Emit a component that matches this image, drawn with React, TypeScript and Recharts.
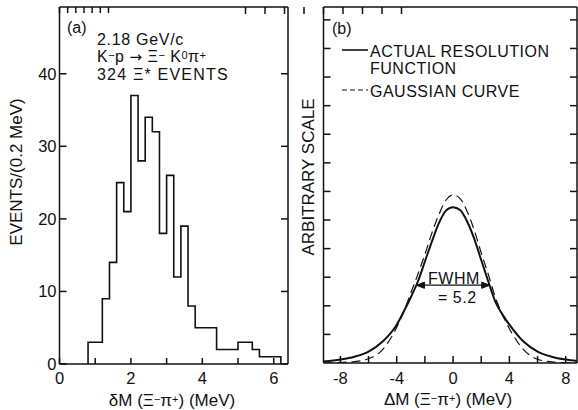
import React from "react";
import {
  ComposedChart,
  Line,
  XAxis,
  YAxis,
  ReferenceLine,
} from "recharts";

// (a) histogram: left edge of each 0.2 MeV bin and its count
const binLeft = [
  0.8, 1.0, 1.2, 1.4, 1.6, 1.8, 2.0, 2.2, 2.4, 2.6, 2.8, 3.0, 3.2, 3.4, 3.6,
  3.8, 4.0, 4.2, 4.4, 4.6, 4.8, 5.0, 5.2, 5.4, 5.6, 5.8, 6.0,
];
const counts = [
  3, 3, 9, 14, 25, 21, 37, 28, 34, 32, 18, 26, 12, 19, 8, 5, 5, 5, 2, 2, 2,
  3, 3, 2, 1, 1, 1,
];
const binWidth = 0.2;
const leftXTicks = [0, 1, 2, 3, 4, 5, 6];
const leftYTicks = [0, 10, 20, 30, 40];

// (b) resolution curves
const deltaM = [
  -9.2, -8, -7, -6, -5, -4, -3.5, -3, -2.5, -2, -1.5, -1, -0.5, 0, 0.5, 1,
  1.5, 2, 2.5, 3, 3.5, 4, 5, 6, 7, 8, 8.8,
];
const resolution = [
  0.05, 0.12, 0.22, 0.4, 0.75, 1.34, 1.8, 2.3, 2.85, 3.55, 4.25, 4.9, 5.33,
  5.45, 5.35, 4.95, 4.35, 3.6, 2.85, 2.15, 1.7, 1.34, 0.75, 0.4, 0.22, 0.12,
  0.07,
];
const gaussian = [
  0.0, 0.02, 0.05, 0.15, 0.47, 1.25, 1.8, 2.45, 3.1, 3.8, 4.55, 5.2, 5.7,
  5.88, 5.75, 5.3, 4.65, 3.85, 3.1, 2.3, 1.7, 1.2, 0.47, 0.13, 0.04, 0.01,
  0.0,
];
const rightXTicks = [-8, -6, -4, -2, 0, 2, 4, 6, 8];
const rightXLabels = [-8, -4, 0, 4, 8];
const rightYTicks = [1, 2, 3, 4, 5, 6, 7, 8, 9, 10, 11, 12];
const fwhm = 5.2;

const histData = [
  { x: binLeft[0], y: 0 },
  ...binLeft.map((x, i) => ({ x, y: counts[i] })),
  { x: binLeft[binLeft.length - 1] + binWidth, y: 0 },
];
const curveData = deltaM.map((x, i) => ({
  x,
  solid: resolution[i],
  dashed: gaussian[i],
}));

const W = 578;
const H = 410;
const INK = "#111";
const FONT = '"Liberation Sans", Arial, sans-serif';
const axisStroke = { stroke: INK, strokeWidth: 1.5 };
const noLabel = () => "";

// tick label drawn in ink colour; show = which values get a label
function makeTick(show: (v: number) => boolean, side: "bottom" | "left") {
  return (props: any) => {
    const { x, y, payload } = props;
    if (!show(payload.value)) return <g />;
    return (
      <text
        x={x}
        y={y}
        dy={side === "bottom" ? "0.71em" : "0.35em"}
        textAnchor={side === "bottom" ? "middle" : "end"}
        fontFamily={FONT}
        fontSize={16.5}
        fill={INK}
      >
        {payload.value}
      </text>
    );
  };
}

function FwhmArrow(props: any) {
  const { x1, x2, y1 } = props;
  const a = 5;
  return (
    <g stroke={INK} fill={INK}>
      <line x1={x1} y1={y1} x2={x2} y2={y1} strokeWidth={1.2} />
      <polygon points={`${x1},${y1} ${x1 + a * 1.6},${y1 - a / 1.6} ${x1 + a * 1.6},${y1 + a / 1.6}`} />
      <polygon points={`${x2},${y1} ${x2 - a * 1.6},${y1 - a / 1.6} ${x2 - a * 1.6},${y1 + a / 1.6}`} />
    </g>
  );
}

function HistogramPanel() {
  return (
    <ComposedChart
      width={W}
      height={H}
      data={histData}
      margin={{ top: 6, right: 289, bottom: 45, left: 58.5 }}
      style={{ position: "absolute", left: 0, top: 0 }}
    >
      <XAxis
        xAxisId="b"
        dataKey="x"
        type="number"
        domain={[0, 6.4]}
        ticks={leftXTicks}
        height={1}
        stroke={INK}
        tickSize={-6}
        tickMargin={14}
        tick={makeTick((v) => v % 2 === 0, "bottom")}
        axisLine={axisStroke}
        tickLine={axisStroke}
        allowDataOverflow
      />
      <XAxis
        xAxisId="t"
        orientation="top"
        type="number"
        domain={[0, 6.4]}
        ticks={leftXTicks}
        height={1}
        stroke={INK}
        tickSize={-6}
        tickFormatter={noLabel}
        axisLine={axisStroke}
        tickLine={axisStroke}
        allowDataOverflow
      />
      <YAxis
        yAxisId="l"
        type="number"
        domain={[0, 49.2]}
        ticks={leftYTicks}
        width={1}
        stroke={INK}
        tickSize={-7}
        tickMargin={10}
        tick={makeTick(() => true, "left")}
        axisLine={axisStroke}
        tickLine={axisStroke}
        allowDataOverflow
      />
      <YAxis
        yAxisId="r"
        orientation="right"
        type="number"
        domain={[0, 49.2]}
        ticks={leftYTicks}
        width={1}
        stroke={INK}
        tickSize={-7}
        tickFormatter={noLabel}
        axisLine={axisStroke}
        tickLine={axisStroke}
        allowDataOverflow
      />
      <Line
        xAxisId="b"
        yAxisId="l"
        dataKey="y"
        type="stepAfter"
        stroke={INK}
        strokeWidth={1.6}
        dot={false}
        isAnimationActive={false}
      />
    </ComposedChart>
  );
}

function ResolutionPanel() {
  return (
    <ComposedChart
      width={W}
      height={H}
      data={curveData}
      margin={{ top: 6, right: 0, bottom: 46, left: 322.5 }}
      style={{ position: "absolute", left: 0, top: 0 }}
    >
      <XAxis
        xAxisId="b"
        dataKey="x"
        type="number"
        domain={[-9.2, 8.8]}
        ticks={rightXTicks}
        height={1}
        stroke={INK}
        tickSize={-7}
        tickMargin={16}
        tick={makeTick((v) => rightXLabels.includes(v), "bottom")}
        axisLine={axisStroke}
        tickLine={axisStroke}
        allowDataOverflow
      />
      <XAxis
        xAxisId="t"
        orientation="top"
        type="number"
        domain={[-9.2, 8.8]}
        ticks={rightXTicks}
        height={1}
        stroke={INK}
        tickSize={-7}
        tickFormatter={noLabel}
        axisLine={axisStroke}
        tickLine={axisStroke}
        allowDataOverflow
      />
      <YAxis
        yAxisId="l"
        type="number"
        domain={[0, 12.45]}
        ticks={rightYTicks}
        width={1}
        stroke={INK}
        tickSize={-7}
        tickFormatter={noLabel}
        axisLine={axisStroke}
        tickLine={axisStroke}
        allowDataOverflow
      />
      <YAxis
        yAxisId="r"
        orientation="right"
        type="number"
        domain={[0, 12.45]}
        ticks={rightYTicks}
        width={1}
        stroke={INK}
        tickSize={-7}
        tickFormatter={noLabel}
        axisLine={axisStroke}
        tickLine={axisStroke}
        allowDataOverflow
      />
      <Line
        xAxisId="b"
        yAxisId="l"
        dataKey="dashed"
        type="monotone"
        stroke={INK}
        strokeWidth={1.2}
        strokeDasharray="9 5"
        dot={false}
        isAnimationActive={false}
      />
      <Line
        xAxisId="b"
        yAxisId="l"
        dataKey="solid"
        type="monotone"
        stroke={INK}
        strokeWidth={2}
        dot={false}
        isAnimationActive={false}
      />
      <ReferenceLine
        xAxisId="b"
        yAxisId="l"
        segment={[
          { x: -fwhm / 2, y: 2.72 },
          { x: fwhm / 2, y: 2.72 },
        ]}
        shape={FwhmArrow}
      />
    </ComposedChart>
  );
}

function Sup({ children }: { children: React.ReactNode }) {
  return (
    <tspan fontSize={11} baselineShift="30%">
      {children}
    </tspan>
  );
}

function Texts() {
  const t = { fontFamily: FONT, fill: INK, fontSize: 16 };
  return (
    <svg
      width={W}
      height={H}
      style={{ position: "absolute", left: 0, top: 0, pointerEvents: "none" }}
    >
      {/* panel (a) */}
      <text {...t} x={67} y={33}>(a)</text>
      <text {...t} x={97} y={45} letterSpacing={0.7}>2.18 GeV/c</text>
      <text {...t} x={97} y={62} letterSpacing={0.5}>
        K<Sup>−</Sup>p <tspan fontFamily='"DejaVu Sans"' fontSize={15}>→</tspan> Ξ<Sup>−</Sup> K<Sup>0</Sup>π<Sup>+</Sup>
      </text>
      <text {...t} x={97} y={80} letterSpacing={1.2}>324 Ξ* EVENTS</text>
      <text
        {...t}
        fontSize={17}
        x={0}
        y={0}
        textAnchor="middle"
        transform="translate(22 172) rotate(-90)"
      >
        EVENTS/(0.2 MeV)
      </text>
      <text {...t} fontSize={17} x={172} y={406} textAnchor="middle">
        δM (Ξ<Sup>−</Sup>π<Sup>+</Sup>) (MeV)
      </text>

      {/* panel (b) */}
      <text {...t} x={332} y={34}>(b)</text>
      <line x1={342} y1={50} x2={368} y2={50} stroke={INK} strokeWidth={1.6} />
      <text {...t} x={370} y={57} letterSpacing={0.5}>ACTUAL RESOLUTION</text>
      <text {...t} x={370} y={74} letterSpacing={0.5}>FUNCTION</text>
      <line
        x1={342}
        y1={90}
        x2={368}
        y2={90}
        stroke={INK}
        strokeWidth={1.1}
        strokeDasharray="5 3"
      />
      <text {...t} x={370} y={97} letterSpacing={0.5}>GAUSSIAN CURVE</text>
      <text
        {...t}
        fontSize={17}
        x={0}
        y={0}
        textAnchor="middle"
        transform="translate(314 177) rotate(-90)"
      >
        ARBITRARY SCALE
      </text>
      <text {...t} x={428} y={284} letterSpacing={0.5}>FWHM</text>
      <text {...t} x={438} y={303} letterSpacing={0.5}>= 5.2</text>
      <text {...t} fontSize={17} x={448} y={405} textAnchor="middle">
        ΔM (Ξ<Sup>−</Sup>π<Sup>+</Sup>) (MeV)
      </text>
    </svg>
  );
}

export default function App() {
  return (
    <div
      style={{
        position: "absolute",
        left: 0,
        top: 0,
        width: W,
        height: H,
        background: "#fff",
        overflow: "hidden",
      }}
    >
      <HistogramPanel />
      <ResolutionPanel />
      <Texts />
    </div>
  );
}
